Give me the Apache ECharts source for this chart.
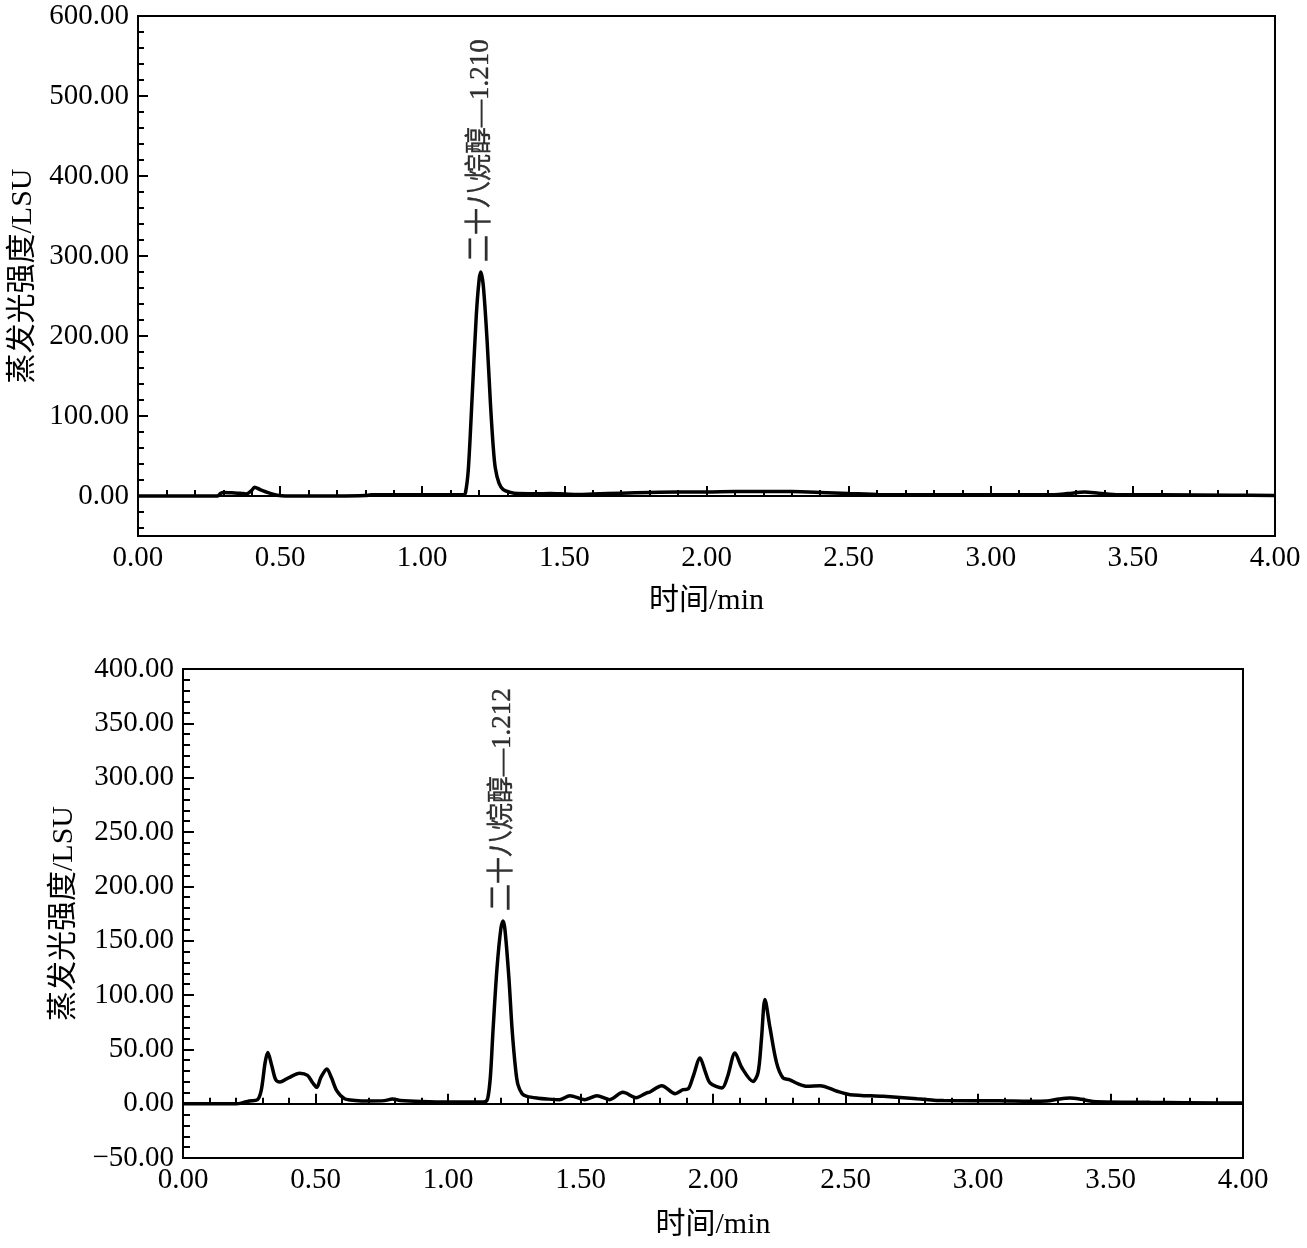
<!DOCTYPE html>
<html><head><meta charset="utf-8">
<script src="https://cdn.jsdelivr.net/npm/echarts@6/dist/echarts.min.js"></script>
<style>html,body{margin:0;padding:0;background:#fff}#c{width:1307px;height:1248px}</style>
</head><body><div id="c"></div><script>
// ---- top chromatogram (time/min, signal/LSU) ----
const topTime = [0,0.1,0.2,0.28,0.29,0.30,0.33,0.36,0.38,0.40,0.41,0.43,0.46,0.49,0.52,0.6,0.7,0.80,0.82,0.9,1.0,1.1,1.145,1.152,1.162,1.175,1.19,1.2,1.206,1.215,1.228,1.24,1.25,1.257,1.27,1.285,1.31,1.335,1.4,1.45,1.5,1.55,1.6,1.7,1.8,1.9,2.0,2.1,2.2,2.3,2.4,2.5,2.6,2.8,3.0,3.2,3.27,3.33,3.38,3.45,3.6,3.85,4.0];
const topSignal = [0,0,0,0,3,4.5,4,3.5,2.5,7,11,8,4,1,0,0,0,0.5,1.5,1.5,1.5,1.5,1.5,4,33,120,225,270,280,262,195,115,60,35,16,8,4.5,3,2.8,3,2.5,2,2.5,3.5,4.5,5,5,5.5,5.5,5.5,4.5,3,2,1.5,1.5,1.5,3,5,3.5,1.5,1.5,1,0.5];
// ---- bottom chromatogram ----
const bottomTime = [0,0.1,0.2,0.22,0.25,0.28,0.295,0.31,0.32,0.335,0.35,0.366,0.40,0.44,0.47,0.49,0.505,0.52,0.543,0.56,0.58,0.61,0.65,0.70,0.76,0.79,0.82,0.9,1.0,1.1,1.14,1.15,1.16,1.17,1.185,1.2,1.208,1.215,1.23,1.242,1.255,1.264,1.28,1.298,1.34,1.373,1.42,1.46,1.517,1.562,1.61,1.66,1.71,1.75,1.76,1.807,1.857,1.887,1.906,1.925,1.951,1.97,1.989,2.034,2.055,2.083,2.109,2.151,2.17,2.183,2.196,2.215,2.24,2.264,2.29,2.32,2.355,2.404,2.468,2.517,2.642,2.77,2.87,3.08,3.2,3.26,3.30,3.347,3.39,3.434,3.65,3.91,4.0];
const bottomSignal = [0,0,0,0.5,2.5,3.5,12,38,47,35,22,20,24,28,26,19,15,24,32,24,12,4.5,3,2.5,2.8,4.2,3,2,1.5,1.5,1.8,5,25,68,125,162,168,160,115,68,32,17.5,9,6.7,5,4.3,3.7,7.3,3.7,7.3,3.7,10.4,5.5,10,10.5,16.6,9.2,12.9,13.5,25,42,30,19,14.4,25,46.7,33,20.5,28.5,60,95.8,70,37.5,23.7,22,18.4,16,16.6,11.4,8.3,6.8,4.6,2.8,2.6,2.2,2.4,4,5.2,4,2.1,1.2,0.6,0.5];
// ---- axes / ticks / labels ----
const xRange = [0, 4];
const xStep = 0.5;
const topYRange = [-50, 600];
const topYLabels = [0,100,200,300,400,500,600];
const bottomYRange = [-50, 400];
const bottomYStep = 50;
const peakNames = ['二十八烷醇—1.210', '二十八烷醇—1.212'];
const xName = '时间/min';
const yName = '蒸发光强度/LSU';

const FONT = '"Liberation Serif", "Times New Roman", "Noto Sans CJK SC", serif';
const topMinor = [];
for (let v = -40; v <= 580; v += 20) if (v % 100 !== 0) topMinor.push(v);

function pairs(t, v) { return t.map((x, i) => [x, v[i]]); }
function peakOf(t, v) { let k = 0; v.forEach((y, i) => { if (y > v[k]) k = i; }); return [t[k], v[k]]; }
const fmt = v => (v < 0 ? '\u2212' + Math.abs(v).toFixed(2) : v.toFixed(2));
const black = '#000';

function xAxis(g, gap) {
  return {
    gridIndex: g, type: 'value', min: xRange[0], max: xRange[1], interval: xStep,
    axisLine: { lineStyle: { color: black, width: 2 } },
    axisTick: { inside: true, length: 10, lineStyle: { color: black, width: 2 } },
    minorTick: { show: true, splitNumber: 5, length: 6, lineStyle: { color: black, width: 2 } },
    splitLine: { show: false },
    axisLabel: { formatter: fmt, fontSize: 29, color: black, fontFamily: FONT, margin: 8, showMinLabel: true, showMaxLabel: true },
    name: xName, nameLocation: 'middle', nameGap: gap,
    nameTextStyle: { fontSize: 30, color: black, fontFamily: FONT }
  };
}
const lineSeries = (xi, data) => ({
  type: 'line', xAxisIndex: xi, yAxisIndex: xi === 0 ? 0 : 2, data, showSymbol: false, symbol: 'none',
  smooth: 0.3, lineStyle: { color: black, width: 3.5 }, silent: true
});
const labelSeries = (xi, pt, name) => ({
  type: 'scatter', xAxisIndex: xi, yAxisIndex: xi === 0 ? 0 : 2, data: [pt], symbolSize: 0,
  itemStyle: { color: black }, silent: true,
  label: { show: true, formatter: name, position: 'top', distance: 10, rotate: 90, align: 'left', verticalAlign: 'middle',
    fontSize: 27, color: black, fontFamily: FONT, textBorderColor: black, textBorderWidth: 0.4 }
});

const option = {
  backgroundColor: '#fff', animation: false,
  grid: [
    { left: 137, right: 32, top: 16, height: 520, show: true, borderColor: black, borderWidth: 2, backgroundColor: 'transparent' },
    { left: 183, right: 64, top: 669, height: 489, show: true, borderColor: black, borderWidth: 2, backgroundColor: 'transparent' }
  ],
  xAxis: [xAxis(0, 50), xAxis(1, 52)],
  yAxis: [
    { gridIndex: 0, type: 'value', min: topYRange[0], max: topYRange[1],
      axisLine: { show: true, lineStyle: { color: black, width: 2 } },
      axisTick: { show: true, inside: true, length: 10, customValues: topYLabels, lineStyle: { color: black, width: 2 } },
      splitLine: { show: false },
      axisLabel: { customValues: topYLabels, formatter: fmt, fontSize: 29, color: black, fontFamily: FONT, margin: 9 },
      name: yName, nameLocation: 'middle', nameGap: 100,
      nameTextStyle: { fontSize: 30, color: black, fontFamily: FONT } },
    { gridIndex: 0, type: 'value', min: topYRange[0], max: topYRange[1], position: 'left',
      axisLine: { show: false },
      axisTick: { show: true, inside: true, length: 6, customValues: topMinor, lineStyle: { color: black, width: 2 } },
      axisLabel: { show: false }, splitLine: { show: false } },
    { gridIndex: 1, type: 'value', min: bottomYRange[0], max: bottomYRange[1], interval: bottomYStep,
      axisLine: { show: true, lineStyle: { color: black, width: 2 } },
      axisTick: { show: true, inside: true, length: 11, lineStyle: { color: black, width: 2 } },
      minorTick: { show: true, splitNumber: 5, length: 7, lineStyle: { color: black, width: 2 } },
      splitLine: { show: false },
      axisLabel: { formatter: fmt, fontSize: 29, color: black, fontFamily: FONT, margin: 9, showMinLabel: true, showMaxLabel: true },
      name: yName, nameLocation: 'middle', nameGap: 104,
      nameTextStyle: { fontSize: 30, color: black, fontFamily: FONT } }
  ],
  series: [
    lineSeries(0, pairs(topTime, topSignal)),
    lineSeries(1, pairs(bottomTime, bottomSignal)),
    labelSeries(0, peakOf(topTime, topSignal), peakNames[0]),
    labelSeries(1, peakOf(bottomTime, bottomSignal), peakNames[1])
  ]
};
const chart = echarts.init(document.getElementById('c'), null, { renderer: 'canvas' });
chart.setOption(option);
</script></body></html>
